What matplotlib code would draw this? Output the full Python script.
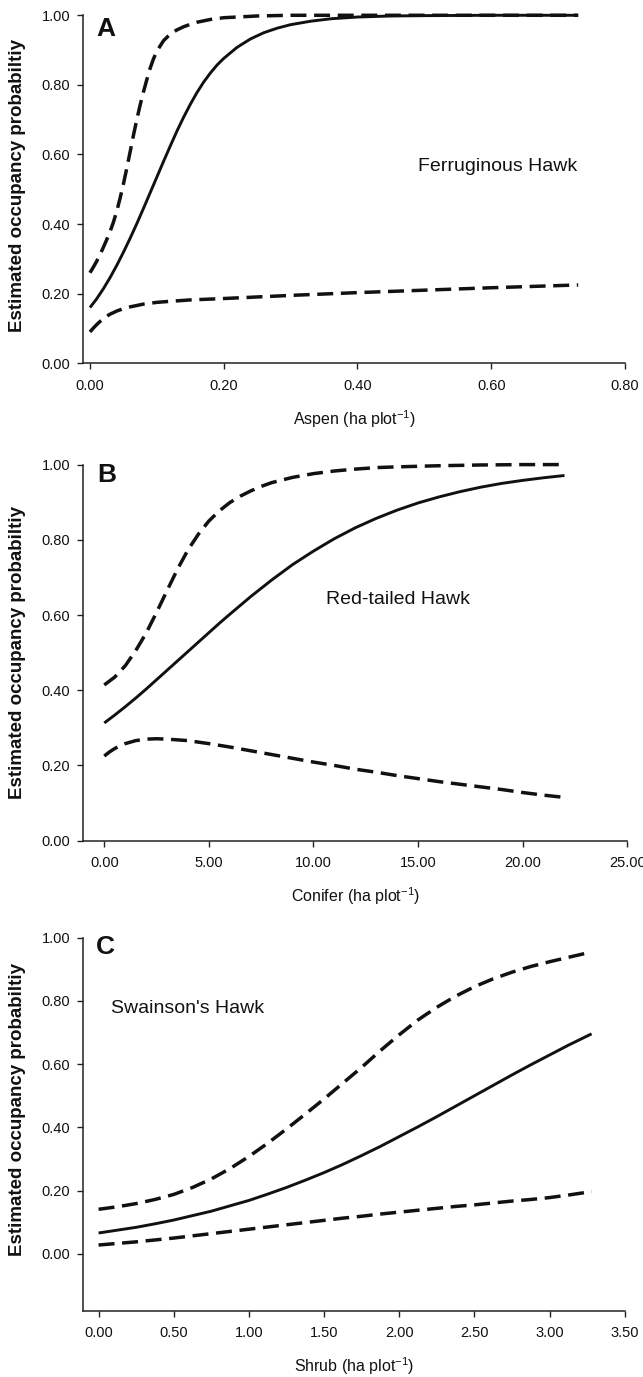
import matplotlib
matplotlib.use("Agg")
import matplotlib.pyplot as plt

plt.rcParams["font.family"] = ["Liberation Sans", "DejaVu Sans"]
plt.rcParams["mathtext.fontset"] = "custom"
plt.rcParams["mathtext.rm"] = "Liberation Sans"
plt.rcParams["mathtext.it"] = "Liberation Sans:italic"
plt.rcParams["mathtext.bf"] = "Liberation Sans:bold"

# --- panel A: Ferruginous Hawk vs aspen ---
aspen_mean_x = [0.00, 0.01, 0.02, 0.03, 0.04, 0.05, 0.06, 0.07, 0.08, 0.09, 0.10,
                0.11, 0.12, 0.13, 0.14, 0.15, 0.16, 0.17, 0.18, 0.19, 0.20, 0.22,
                0.24, 0.26, 0.28, 0.30, 0.33, 0.36, 0.40, 0.45, 0.50, 0.60, 0.73]
aspen_mean = [0.160, 0.185, 0.214, 0.246, 0.281, 0.319, 0.359, 0.401, 0.445, 0.490,
              0.535, 0.580, 0.624, 0.667, 0.707, 0.744, 0.778, 0.808, 0.834, 0.857,
              0.876, 0.908, 0.932, 0.950, 0.963, 0.973, 0.983, 0.990, 0.995, 0.998,
              0.999, 1.000, 1.000]

aspen_upper_x = [0.000, 0.005, 0.010, 0.015, 0.020, 0.025, 0.030, 0.035, 0.040,
                 0.045, 0.050, 0.055, 0.060, 0.065, 0.070, 0.075, 0.080, 0.085,
                 0.090, 0.095, 0.100, 0.110, 0.120, 0.130, 0.140, 0.150, 0.160,
                 0.180, 0.200, 0.250, 0.300, 0.730]
aspen_upper = [0.260, 0.276, 0.293, 0.312, 0.333, 0.355, 0.378, 0.405, 0.437,
               0.474, 0.515, 0.560, 0.607, 0.655, 0.700, 0.742, 0.780, 0.815,
               0.848, 0.875, 0.897, 0.927, 0.946, 0.958, 0.967, 0.974, 0.980,
               0.988, 0.993, 0.998, 1.000, 1.000]

aspen_lower_x = [0.000, 0.005, 0.010, 0.015, 0.020, 0.025, 0.030, 0.040, 0.050,
                 0.060, 0.070, 0.080, 0.100, 0.120, 0.150, 0.200, 0.300, 0.400,
                 0.500, 0.600, 0.730]
aspen_lower = [0.090, 0.101, 0.111, 0.120, 0.128, 0.135, 0.141, 0.150, 0.157,
               0.162, 0.166, 0.170, 0.175, 0.178, 0.182, 0.186, 0.195, 0.203,
               0.210, 0.217, 0.225]

# --- panel B: Red-tailed Hawk vs conifer ---
conifer_mean_x = [0, 0.5, 1, 1.5, 2, 2.5, 3, 3.5, 4, 4.5, 5, 5.5, 6, 7, 8, 9, 10,
                  11, 12, 13, 14, 15, 16, 17, 18, 19, 20, 21, 22]
conifer_mean = [0.313, 0.334, 0.356, 0.379, 0.403, 0.428, 0.453, 0.478, 0.503,
                0.528, 0.553, 0.578, 0.602, 0.649, 0.693, 0.734, 0.770, 0.803,
                0.832, 0.857, 0.879, 0.898, 0.914, 0.928, 0.940, 0.950, 0.958,
                0.965, 0.971]

conifer_upper_x = [0, 0.5, 1, 1.5, 2, 2.5, 3, 3.5, 4, 4.5, 5, 5.5, 6, 6.5, 7, 7.5,
                   8, 9, 10, 11, 12, 13, 14, 16, 18, 20, 22]
conifer_upper = [0.414, 0.435, 0.465, 0.505, 0.552, 0.607, 0.665, 0.722, 0.773,
                 0.815, 0.850, 0.877, 0.899, 0.916, 0.930, 0.942, 0.952, 0.966,
                 0.976, 0.983, 0.988, 0.992, 0.994, 0.997, 0.999, 1.000, 1.000]

conifer_lower_x = [0, 0.25, 0.5, 0.75, 1, 1.5, 2, 2.5, 3, 3.5, 4, 5, 6, 7, 8, 9,
                   10, 11, 12, 13, 14, 15, 16, 17, 18, 19, 20, 21, 22]
conifer_lower = [0.225, 0.236, 0.245, 0.252, 0.258, 0.266, 0.270, 0.271, 0.270,
                 0.268, 0.266, 0.258, 0.249, 0.239, 0.229, 0.219, 0.209, 0.200,
                 0.190, 0.182, 0.173, 0.165, 0.157, 0.150, 0.143, 0.136, 0.128,
                 0.121, 0.115]

# --- panel C: Swainson's Hawk vs shrub ---
shrub_x = [0.000, 0.125, 0.250, 0.375, 0.500, 0.625, 0.750, 0.875, 1.000, 1.125,
           1.250, 1.375, 1.500, 1.625, 1.750, 1.875, 2.000, 2.125, 2.250, 2.375,
           2.500, 2.625, 2.750, 2.875, 3.000, 3.125, 3.280]
shrub_mean = [0.066, 0.075, 0.084, 0.095, 0.107, 0.121, 0.135, 0.152, 0.169,
              0.189, 0.210, 0.233, 0.257, 0.283, 0.311, 0.340, 0.371, 0.402,
              0.434, 0.467, 0.500, 0.533, 0.566, 0.598, 0.629, 0.660, 0.696]
shrub_upper = [0.141, 0.149, 0.159, 0.172, 0.188, 0.210, 0.237, 0.270, 0.308,
               0.350, 0.395, 0.442, 0.490, 0.540, 0.590, 0.643, 0.693, 0.740,
               0.780, 0.815, 0.845, 0.870, 0.891, 0.909, 0.924, 0.938, 0.955]
shrub_lower = [0.028, 0.033, 0.038, 0.044, 0.050, 0.057, 0.064, 0.071, 0.078,
               0.085, 0.092, 0.099, 0.106, 0.113, 0.119, 0.126, 0.132, 0.138,
               0.144, 0.150, 0.155, 0.161, 0.167, 0.172, 0.178, 0.186, 0.197]

ytick_vals = [0.0, 0.2, 0.4, 0.6, 0.8, 1.0]

panels = [
    dict(mean=(aspen_mean_x, aspen_mean), upper=(aspen_upper_x, aspen_upper),
         lower=(aspen_lower_x, aspen_lower),
         xlim=(-0.0105, 0.80), ylim=(0, 1.0), xticks=[0.0, 0.2, 0.4, 0.6, 0.8],
         xlabel="Aspen (ha plot$^{-1}$)", letter="A", letter_xy=(0.01, 0.962),
         species="Ferruginous Hawk", species_xy=(0.491, 0.564), ylab_y=0.51,
         rect=[0.129, 0.7362, 0.843, 0.2527]),
    dict(mean=(conifer_mean_x, conifer_mean), upper=(conifer_upper_x, conifer_upper),
         lower=(conifer_lower_x, conifer_lower),
         xlim=(-1.02, 25), ylim=(0, 1.0), xticks=[0, 5, 10, 15, 20, 25],
         xlabel="Conifer (ha plot$^{-1}$)", letter="B", letter_xy=(-0.33, 0.973),
         species="Red-tailed Hawk", species_xy=(10.6, 0.642), ylab_y=0.5,
         rect=[0.129, 0.3895, 0.8465, 0.2731]),
    dict(mean=(shrub_x, shrub_mean), upper=(shrub_x, shrub_upper),
         lower=(shrub_x, shrub_lower),
         xlim=(-0.104, 3.5), ylim=(-0.18, 1.0),
         xticks=[0.0, 0.5, 1.0, 1.5, 2.0, 2.5, 3.0, 3.5],
         xlabel="Shrub (ha plot$^{-1}$)", letter="C", letter_xy=(-0.02, 0.971),
         species="Swainson's Hawk", species_xy=(0.082, 0.776), ylab_y=0.54,
         rect=[0.129, 0.0481, 0.8425, 0.2709]),
]

fig = plt.figure(figsize=(6.43, 13.77), dpi=100)

dash_style = (0, (4.6, 2.2))
ink = "#111111"

for p in panels:
    ax = fig.add_axes(p["rect"])
    ax.plot(*p["mean"], color=ink, lw=2.1, solid_capstyle="butt", clip_on=False)
    ax.plot(*p["upper"], color=ink, lw=2.5, linestyle=dash_style, clip_on=False)
    ax.plot(*p["lower"], color=ink, lw=2.5, linestyle=dash_style, clip_on=False)

    ax.set_xlim(*p["xlim"])
    ax.set_ylim(*p["ylim"])
    ax.set_xticks(p["xticks"])
    ax.set_xticklabels([f"{v:.2f}" for v in p["xticks"]])
    ax.set_yticks(ytick_vals)
    ax.set_yticklabels([f"{v:.2f}" for v in ytick_vals])

    for side in ["top", "right"]:
        ax.spines[side].set_visible(False)
    for side in ["left", "bottom"]:
        ax.spines[side].set_linewidth(1.1)
        ax.spines[side].set_color("#222222")

    ax.tick_params(axis="both", direction="out", length=4, width=1.0, color="#222222",
                   labelsize=10.5, labelcolor="#111111")
    ax.tick_params(axis="x", pad=7)
    ax.tick_params(axis="y", pad=5)

    ax.set_xlabel(p["xlabel"], fontsize=11.5, labelpad=11, color="#111111")
    ax.set_ylabel("Estimated occupancy probabiltiy", fontsize=13.5, fontweight="bold",
                  color="#111111")
    ax.yaxis.set_label_coords(-0.105, p["ylab_y"])

    ax.text(p["letter_xy"][0], p["letter_xy"][1], p["letter"], fontsize=19,
            fontweight="bold", ha="left", va="center", color="#111111")
    ax.text(p["species_xy"][0], p["species_xy"][1], p["species"], fontsize=14,
            ha="left", va="center", color="#111111")

fig.savefig("out.png", dpi=100)
